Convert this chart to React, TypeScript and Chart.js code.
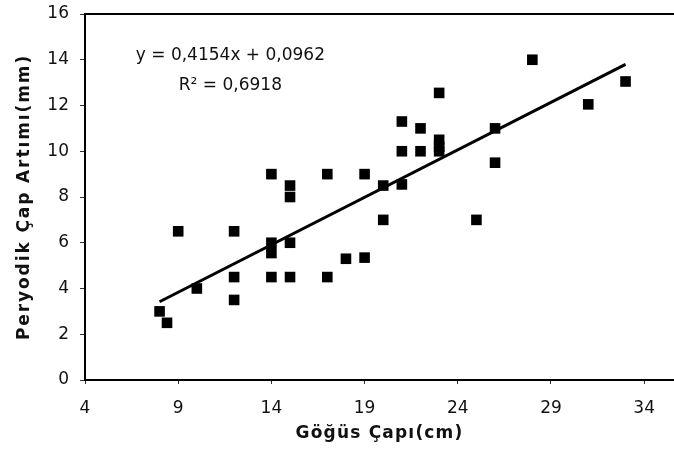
import React, { useEffect, useRef } from "react";
import { Chart, registerables } from "chart.js";

Chart.register(...registerables);

// Göğüs çapı (cm)
const xValues = [8, 8.4, 9, 10, 12, 12, 12, 14, 14, 14, 14, 15, 15, 15, 15, 17, 17, 18, 19, 19, 20, 20, 21, 21, 21, 22, 22, 23, 23, 23, 23, 25, 26, 26, 28, 31, 33];
// Peryodik çap artımı (mm)
const yValues = [3, 2.5, 6.5, 4, 6.5, 4.5, 3.5, 9, 6, 5.55, 4.5, 8.5, 8, 6, 4.5, 9, 4.5, 5.3, 5.35, 9, 8.5, 7, 11.3, 10, 8.55, 11, 10, 12.55, 10.5, 10.2, 10, 7, 11, 9.5, 14, 12.05, 13.05];

// Trend line end points (y = 0,4154x + 0,0962)
const trendX = [8, 33];
const trendY = [3.42, 13.8];

const xTicks = [4, 9, 14, 19, 24, 29, 34];
const yTicks = [0, 2, 4, 6, 8, 10, 12, 14, 16];

const equationText = "y = 0,4154x + 0,0962";
const r2Text = "R\u00B2 = 0,6918";
const xTitle = "Göğüs Çapı(cm)";
const yTitle = "Peryodik Çap Artımı(mm)";

const FONT = "'DejaVu Sans', 'Liberation Sans', Arial, sans-serif";

function spacedTitle(spacing: string) {
  return (s: any) => {
    if (s.__patched) return;
    s.__patched = true;
    const proto = Object.getPrototypeOf(s);
    s.drawTitle = function () {
      const ctx = this.ctx;
      const prev = ctx.letterSpacing;
      ctx.letterSpacing = spacing;
      proto.drawTitle.call(this);
      ctx.letterSpacing = prev || "0px";
    };
  };
}

export default function App() {
  const ref = useRef<HTMLCanvasElement | null>(null);

  useEffect(() => {
    if (!ref.current) return;
    const annotate = {
      id: "annotate",
      afterDraw(chart: any) {
        const { ctx, chartArea, scales } = chart;
        ctx.save();
        // top frame line
        ctx.strokeStyle = "#000";
        ctx.lineWidth = 2;
        ctx.beginPath();
        ctx.moveTo(chartArea.left, chartArea.top);
        ctx.lineTo(chartArea.right, chartArea.top);
        ctx.stroke();
        // equation
        ctx.fillStyle = "#111";
        ctx.font = `17px ${FONT}`;
        ctx.textAlign = "center";
        ctx.textBaseline = "middle";
        const cx = scales.x.getPixelForValue(11.8);
        ctx.fillText(equationText, cx, scales.y.getPixelForValue(14.2));
        ctx.fillText(r2Text, cx, scales.y.getPixelForValue(12.88));
        ctx.restore();
      },
    };

    const chart = new Chart(ref.current, {
      type: "scatter",
      data: {
        datasets: [
          {
            label: "trend",
            type: "line" as any,
            data: trendX.map((x, i) => ({ x, y: trendY[i] })),
            borderColor: "#000",
            borderWidth: 3,
            pointRadius: 0,
            showLine: true,
            fill: false,
          },
          {
            label: "data",
            data: xValues.map((x, i) => ({ x, y: yValues[i] })),
            pointStyle: "rect",
            pointRadius: 7.5,
            pointBorderWidth: 0,
            backgroundColor: "#000",
            borderColor: "#000",
          },
        ],
      },
      options: {
        responsive: false,
        devicePixelRatio: 1,
        animation: false,
        layout: { autoPadding: false, padding: { top: 14, right: 0, left: 0, bottom: 0 } },
        plugins: {
          legend: { display: false },
          tooltip: { enabled: false },
        },
        scales: {
          x: {
            type: "linear",
            min: 4,
            max: 35.6,
            afterBuildTicks: (s: any) => {
              s.ticks = xTicks.map((v) => ({ value: v }));
            },
            afterFit: (s: any) => {
              s.height = 72;
              s.paddingLeft = 0;
              s.paddingRight = 0;
            },
            afterUpdate: spacedTitle("1.2px"),
            grid: {
              display: true,
              drawOnChartArea: false,
              drawTicks: true,
              tickLength: 4,
              color: "#333",
            },
            border: { display: true, color: "#000", width: 2 },
            ticks: {
              color: "#111",
              font: { family: FONT, size: 17 },
              padding: 14,
              maxRotation: 0,
              autoSkip: false,
            },
            title: {
              display: true,
              text: xTitle,
              color: "#111",
              font: { family: FONT, size: 17, weight: "bold" },
              padding: { top: 0, bottom: 8 },
            },
          },
          y: {
            type: "linear",
            min: 0,
            max: 16,
            afterBuildTicks: (s: any) => {
              s.ticks = yTicks.map((v) => ({ value: v }));
            },
            afterFit: (s: any) => {
              s.width = 85;
              s.paddingTop = 0;
              s.paddingBottom = 0;
            },
            afterUpdate: spacedTitle("1.9px"),
            grid: {
              display: true,
              drawOnChartArea: false,
              drawTicks: true,
              tickLength: 5,
              color: "#333",
            },
            border: { display: true, color: "#000", width: 2 },
            ticks: {
              color: "#111",
              font: { family: FONT, size: 17 },
              padding: 11,
              autoSkip: false,
            },
            title: {
              display: true,
              text: yTitle,
              color: "#111",
              font: { family: FONT, size: 17, weight: "bold" },
              padding: { top: 14, bottom: 0 },
            },
          },
        },
      },
      plugins: [annotate],
    } as any);
    return () => chart.destroy();
  }, []);

  return (
    <div style={{ position: "absolute", left: 0, top: 0, width: 674, height: 452, background: "#fff" }}>
      <canvas ref={ref} width={674} height={452} style={{ display: "block" }} />
    </div>
  );
}
